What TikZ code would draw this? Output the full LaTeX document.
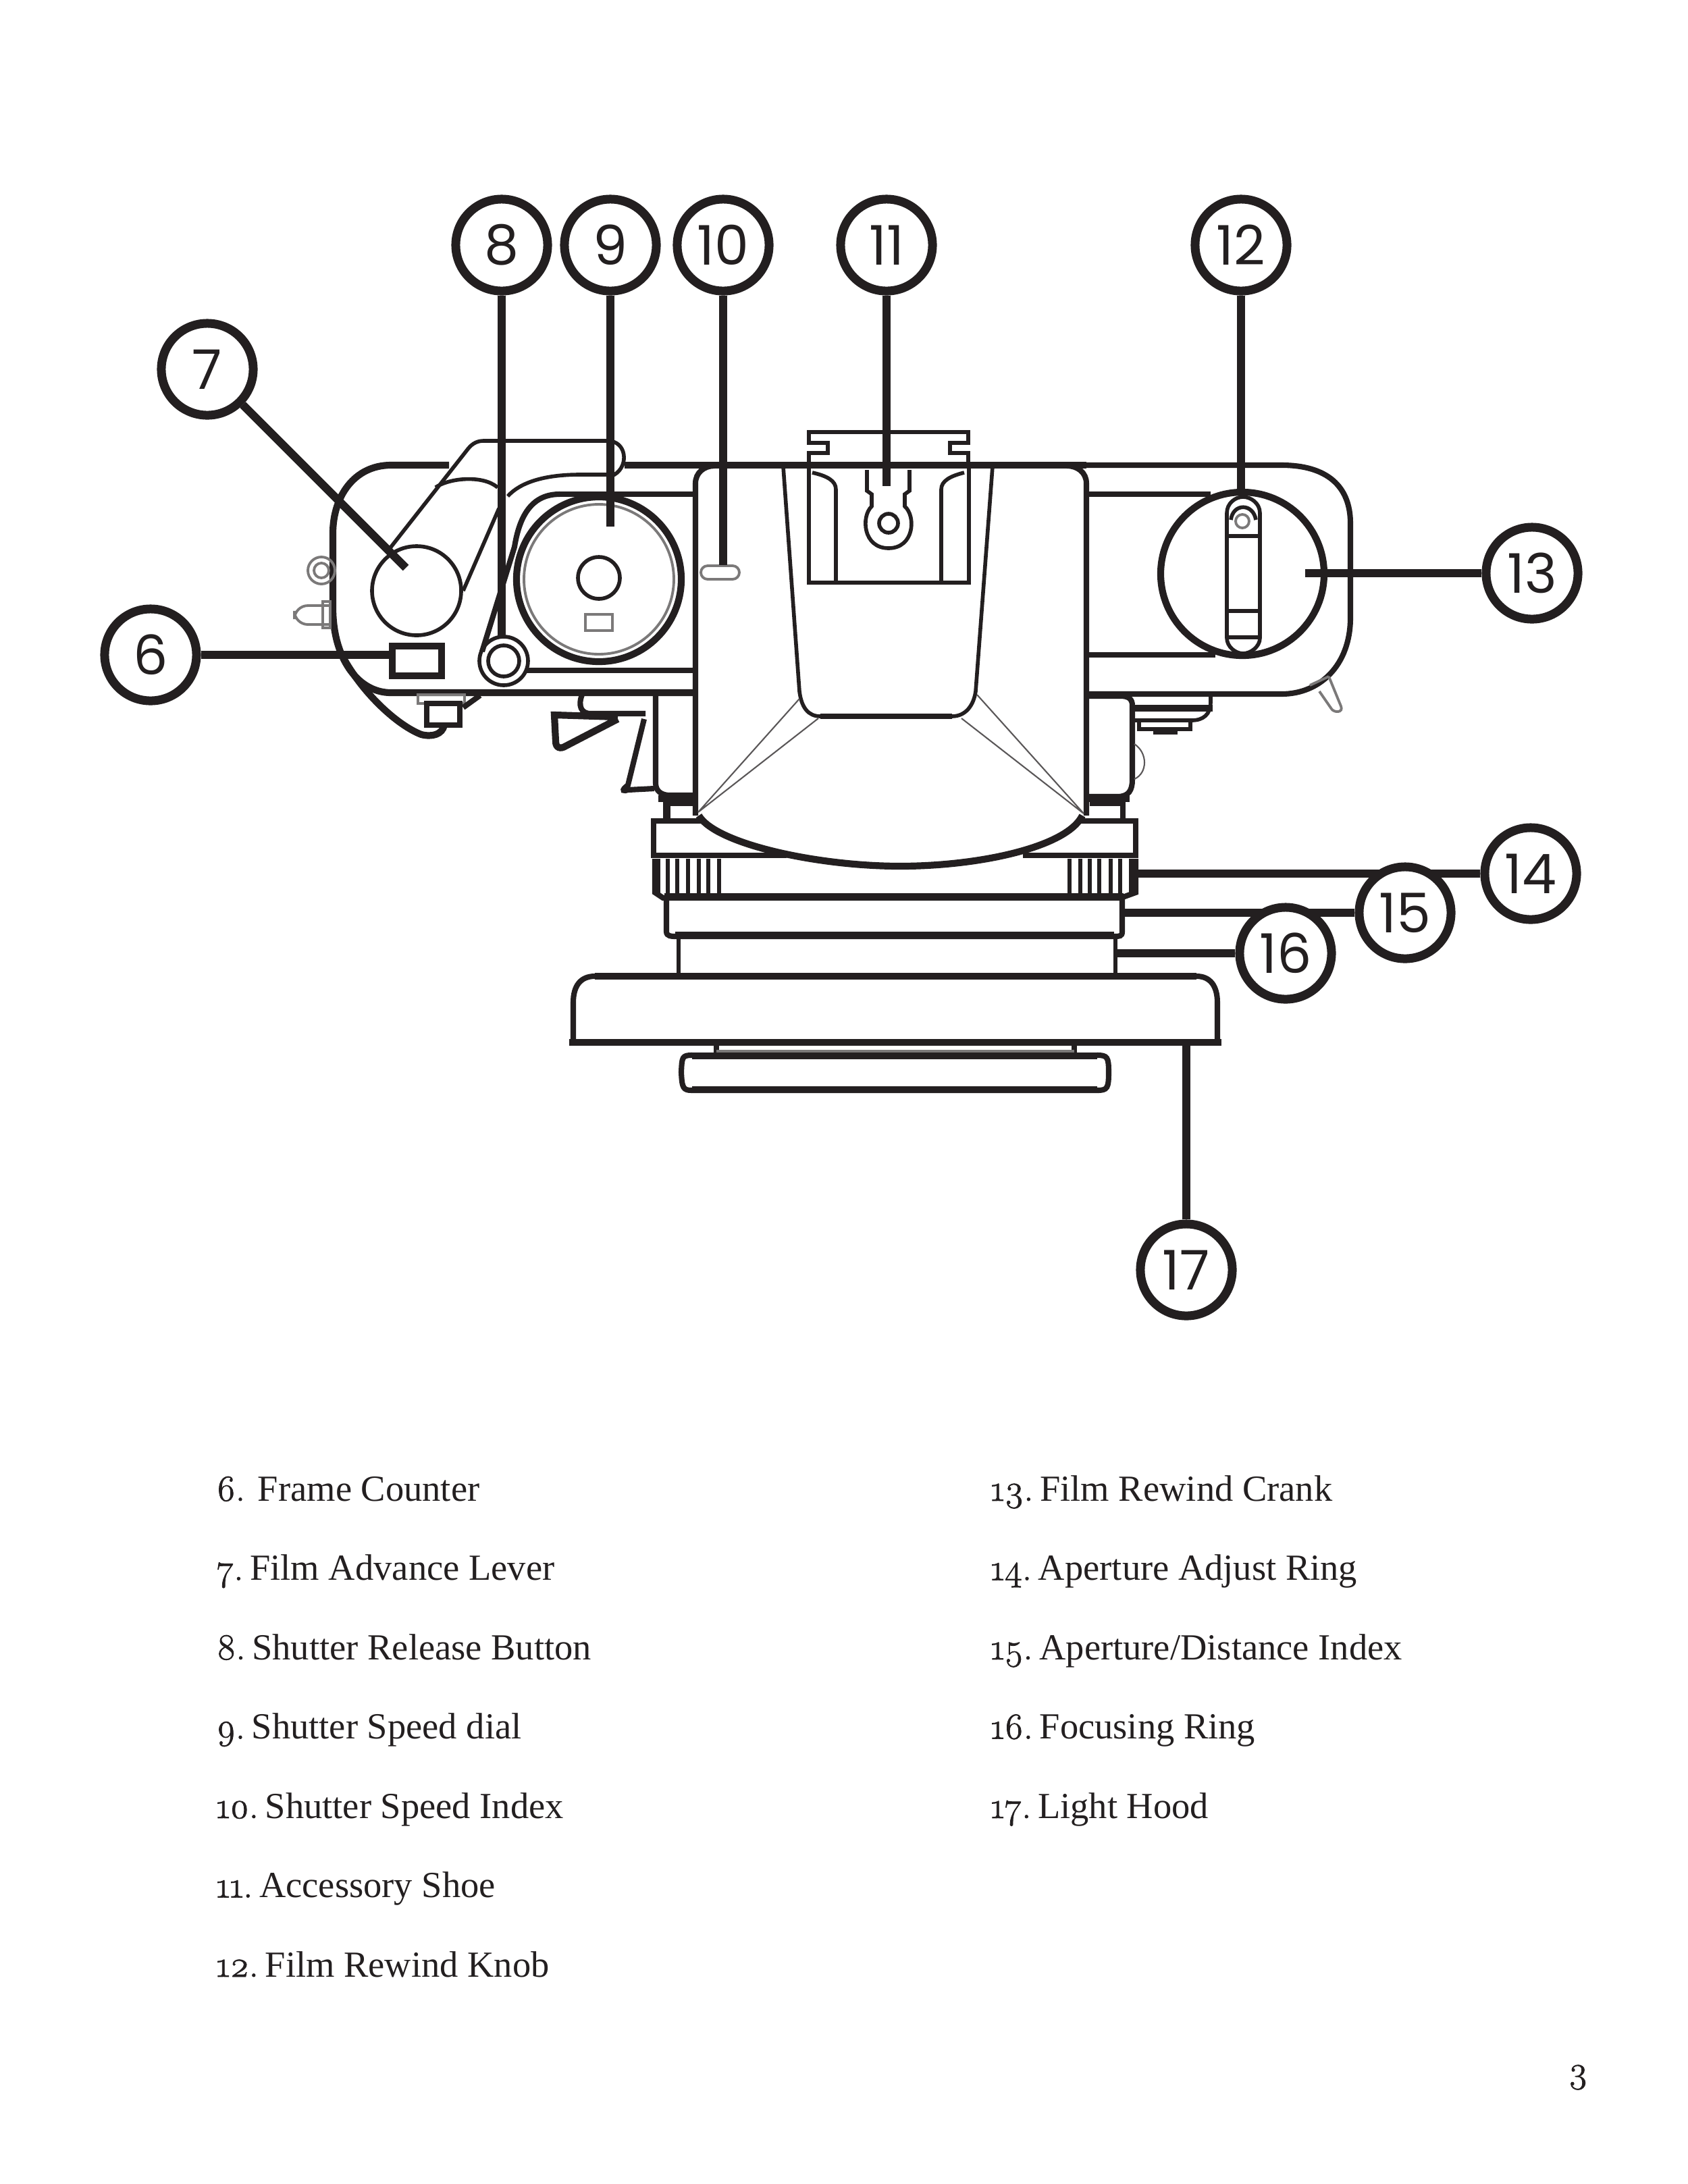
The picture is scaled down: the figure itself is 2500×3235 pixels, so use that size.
\documentclass[tikz,border=0pt]{standalone}
\usepackage{fontspec}
\setmainfont{Liberation Serif}
\newfontfamily\calloutfont{Poppins}
\newfontfamily\oldnum{Latin Modern Roman}[Numbers=OldStyle,FakeBold=1.5]
\newcommand{\itemnum}[1]{{\oldnum #1}\kern-2.3pt\relax}
\usepackage{tikz}
\definecolor{ink}{HTML}{231F20}
\tikzset{
  heavy/.style={draw=ink,line width=2.9pt},
  medium/.style={draw=ink,line width=2.3pt},
  light/.style={draw=ink,line width=1.6pt},
  knurl/.style={draw=ink,line width=1.5pt},
  hair/.style={draw=ink!75,line width=0.6pt},
  faint/.style={draw=ink!60,line width=1.1pt},
  callout/.style={circle,draw=ink,fill=white,line width=3.7pt,minimum size=38.7pt,inner sep=0pt,text=ink,font=\calloutfont\fontsize{23}{23}\selectfont},
  leader/.style={draw=ink,line width=3.5pt},
  legend/.style={anchor=base west,inner sep=0pt,text=ink,font=\fontsize{15.5}{18}\selectfont}
}
\begin{document}
\begin{tikzpicture}[x=0.01cm,y=-0.01cm]
    \useasboundingbox (0,0) rectangle (2500,3235);
    % rear body
    \draw[heavy] (925,689) -- (1609,689);
    \draw[heavy] (665,689) -- (579,689) .. controls (525,689) and (493,735) .. (493,790) -- (493,900) .. controls (493,975) and (530,1026) .. (579,1026) -- (1030,1026);
    \draw[medium] (1609,689) -- (1898,689) .. controls (1965,689) and (2000,720) .. (2000,775) -- (2000,915) .. controls (2000,985) and (1955,1028) .. (1898,1028) -- (1609,1028);
    \draw[medium] (829,732) -- (1030,732); \draw[medium] (780,993) -- (1030,993);
    \draw[medium] (1609,732) -- (1793,732); \draw[medium] (1609,970) -- (1800,970);
    \draw[medium] (829,732) .. controls (790,732) and (770,760) .. (762,810) -- (714,965);
    % wind lever
    \draw[light] (576,814) -- (693,665) .. controls (700,656) and (708,653) .. (716,653) -- (900,653) .. controls (928,653) and (932,690) .. (910,703) -- (859,703) .. controls (805,703) and (770,715) .. (752,735);
    \draw[light] (645,722) .. controls (665,708) and (715,703) .. (737,722);
    \draw[light] (739,753) -- (686,875);
    \draw[light] (617,875) circle (66);
    \draw[faint] (476,845) circle (20); \draw[faint] (476,845) circle (11);
    \draw[faint, rounded corners=2mm] (489,897) -- (436,897) -- (436,925) -- (489,925);
    \draw[faint] (478,891) rectangle (489,930);
    \draw[heavy] (510,977) .. controls (540,1030) and (590,1075) .. (624,1088) .. controls (640,1092) and (655,1088) .. (658,1074);
    \draw[faint] (619,1029) rectangle (688,1042);
    \draw[medium] (632,1042) rectangle (681,1074);
    \draw[medium] (686,1048) -- (711,1030);
    % speed dial
    \draw[heavy] (887,858) circle (122); \draw[faint] (887,858) circle (111);
    \draw[light] (887,856) circle (31);
    \draw[faint] (867,910) rectangle (907,934);
    \draw[light] (746,979) circle (36); \draw[light] (746,979) circle (23);
    \draw[heavy] (581,957) rectangle (654,1001);
    % trigger
    \draw[medium] (862,1029) .. controls (856,1045) and (860,1057) .. (875,1057) -- (956,1057);
    \draw[heavy] (915,1062) -- (821,1059) -- (823,1098) .. controls (823,1108) and (830,1110) .. (838,1105) -- (915,1065);
    \draw[medium] (954,1065) -- (930,1163) .. controls (918,1172) and (925,1172) .. (930,1170) -- (969,1168);
    \draw[medium] (971,1030) -- (971,1160) .. controls (971,1172) and (980,1178) .. (992,1178) -- (1030,1178);
    \draw[medium] (989,1186) -- (989,1213);
    % prism housing
    \draw[medium] (1030,1208) -- (1030,716) .. controls (1030,700) and (1043,690) .. (1058,690);
    \draw[medium] (1609,1208) -- (1609,716) .. controls (1609,700) and (1596,690) .. (1580,690);
    \draw[heavy] (1035,1208) .. controls (1060,1250) and (1210,1283) .. (1333,1283) .. controls (1450,1283) and (1580,1255) .. (1603,1208);
    \draw[light] (1160,691) -- (1184,1024) .. controls (1187,1048) and (1197,1061) .. (1215,1061) -- (1410,1061) .. controls (1430,1061) and (1442,1045) .. (1445,1024) -- (1470,691);
    \draw[medium] (1215,1061) -- (1410,1061);
    \draw[hair] (1184,1035) -- (1034,1203) -- (1212,1064);
    \draw[hair] (1447,1029) -- (1605,1205) -- (1424,1064);
    % accessory shoe
    \draw[light] (1198,689) -- (1198,671) -- (1226,671) -- (1226,656) -- (1198,656) -- (1198,640) -- (1434,640) -- (1434,656) -- (1407,656) -- (1407,671) -- (1434,671) -- (1434,689);
    \draw[light] (1198,689) -- (1198,863) -- (1435,863) -- (1435,689);
    \draw[light] (1238,863) -- (1238,725) .. controls (1238,712) and (1225,705) .. (1203,700);
    \draw[light] (1394,863) -- (1394,725) .. controls (1394,712) and (1408,705) .. (1428,700);
    \draw[light] (1284,696) -- (1284,727) -- (1291,732) -- (1291,750) .. controls (1275,765) and (1278,812) .. (1316,812) .. controls (1354,812) and (1357,765) .. (1340,750) -- (1340,732) -- (1347,727) -- (1347,696);
    \draw[light] (1316,775) circle (14);
    \draw[faint, rounded corners=1mm] (1038,838) rectangle (1095,858);
    % rewind knob
    \draw[heavy] (1840,850) circle (121);
    \draw[light] (1817,760) .. controls (1817,745) and (1830,736) .. (1841,736) .. controls (1852,736) and (1866,745) .. (1866,760) -- (1866,945) .. controls (1866,958) and (1852,968) .. (1841,968) .. controls (1830,968) and (1817,958) .. (1817,945) -- cycle;
    \draw[light] (1823,770) .. controls (1826,745) and (1856,745) .. (1860,770);
    \draw[faint] (1840,772) circle (10);
    \foreach \q in {794,905,944} {\draw[light] (1817,\q) -- (1866,\q);}
    % rear studs
    \draw[faint] (1968,1002) -- (1986,1046) .. controls (1990,1056) and (1976,1056) .. (1972,1050) -- (1954,1024);
    \draw[faint] (1940,1015) -- (1968,1002);
    \draw[medium] (1609,1031) -- (1660,1031) .. controls (1672,1031) and (1677,1036) .. (1677,1045) -- (1677,1155) .. controls (1677,1170) and (1672,1180) .. (1655,1180) -- (1609,1180);
    \draw[light] (1793,1031) -- (1793,1040) .. controls (1793,1058) and (1782,1067) .. (1765,1067) -- (1677,1067);
    \draw[heavy] (1677,1049) -- (1796,1049);
    \draw[light] (1687,1069) -- (1687,1080) -- (1763,1080) -- (1763,1069);
    \fill[ink] (1708,1080) rectangle (1744,1088);
    \draw[hair] (1680,1102) .. controls (1700,1115) and (1700,1145) .. (1680,1154);
    % lens rings
    \draw[medium] (986,1212) -- (986,1190) -- (1028,1190); \draw[medium] (1614,1190) -- (1663,1190) -- (1663,1212);
    \draw[heavy] (975,1183) -- (1026,1183); \draw[heavy] (1612,1183) -- (1673,1183);
    \draw[medium] (1042,1216) -- (968,1216) -- (968,1267) -- (1165,1267); \draw[medium] (1515,1267) -- (1682,1267) -- (1682,1216) -- (1598,1216);
    \draw[medium] (970,1272) -- (970,1322) -- (982,1330) -- (1660,1330) -- (1682,1322) -- (1682,1272);
    \foreach \p in {975,989,1003,1019,1035,1049,1065,1584,1600,1614,1628,1645,1659,1675} {\draw[knurl] (\p,1272) -- (\p,1325);}
    \draw[heavy] (984,1328) -- (1664,1328);
    \draw[medium] (987,1330) -- (987,1380) .. controls (987,1387) and (995,1387) .. (1000,1387) -- (1650,1387) .. controls (1658,1387) and (1662,1387) .. (1662,1380) -- (1662,1330);
    \draw[heavy] (1000,1385) -- (1650,1385);
    \draw[light] (1005,1388) -- (1005,1442); \draw[light] (1652,1388) -- (1652,1442);
    % hood and filter
    \draw[heavy] (881,1446) -- (1772,1446);
    \draw[medium] (849,1540) -- (849,1485) .. controls (849,1460) and (860,1446) .. (881,1446);
    \draw[medium] (1803,1540) -- (1803,1485) .. controls (1803,1460) and (1792,1446) .. (1772,1446);
    \draw[heavy] (843,1544) -- (1809,1544);
    \draw[medium] (1061,1548) -- (1061,1560); \draw[medium] (1591,1548) -- (1591,1560); \draw[faint] (1061,1557) -- (1591,1557);
    \draw[medium] (1025,1563) .. controls (1010,1563) and (1010,1566) .. (1009,1588) .. controls (1010,1612) and (1012,1615) .. (1025,1615) -- (1625,1615) .. controls (1640,1615) and (1642,1612) .. (1642,1588) .. controls (1642,1566) and (1640,1563) .. (1625,1563);
    \draw[heavy] (1025,1564) -- (1625,1564); \draw[heavy] (1025,1614) -- (1625,1614);
    % callouts
    \coordinate (T6) at (581,970); \coordinate (T7) at (601,841); \coordinate (T8) at (743,944); \coordinate (T9) at (904,780);
    \coordinate (T10) at (1071,837); \coordinate (T11) at (1313,720); \coordinate (T12) at (1838,734); \coordinate (T13) at (1933,849);
    \coordinate (T14) at (1685,1294); \coordinate (T15) at (1664,1352); \coordinate (T16) at (1652,1412); \coordinate (T17) at (1757,1548);
    \foreach \n/\p/\q in {6/223/970,7/307/547,8/743/363,9/904/363,10/1071/363,11/1313/363,12/1838/363,13/2269/849,14/2267/1294,15/2081/1352,16/1904/1412,17/1757/1881} {
        \node[callout] (N\n) at (\p,\q) {\n};
        \draw[leader] (N\n) -- (T\n);
    }
    % legend
    \foreach \t [count=\i from 0] in {{\itemnum{6.}\ \ Frame Counter},{\itemnum{7.} Film Advance Lever},{\itemnum{8.} Shutter Release Button},{\itemnum{9.} Shutter Speed dial},{\itemnum{10.} Shutter Speed Index},{\itemnum{11.} Accessory Shoe},{\itemnum{12.} Film Rewind Knob}} {
        \node[legend] (A\i) at (320,{2223+117.5*\i}) {\t};
    }
    \foreach \t [count=\i from 0] in {{\itemnum{13.} Film Rewind Crank},{\itemnum{14.} Aperture Adjust Ring},{\itemnum{15.} Aperture/Distance Index},{\itemnum{16.} Focusing Ring},{\itemnum{17.} Light Hood}} {
        \node[legend] (B\i) at (1467,{2223+117.5*\i}) {\t};
    }
    \node[legend] (page) at (2322,3084) {\oldnum 3};
\end{tikzpicture}
\end{document}
